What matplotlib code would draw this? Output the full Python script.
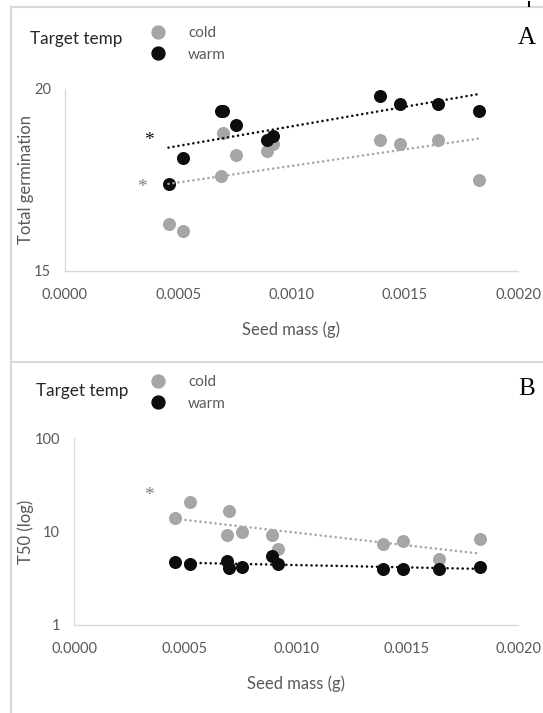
import numpy as np
import matplotlib
matplotlib.use("Agg")
import matplotlib.pyplot as plt
from matplotlib.lines import Line2D
from matplotlib.ticker import FormatStrFormatter, NullLocator

# seed mass of each species (g)
seed_mass = [0.000457, 0.000521, 0.000689, 0.000697, 0.000755, 0.00089,
             0.00092, 0.00139, 0.00148, 0.001645, 0.00183]

# A: total germination
germ_cold = [16.3, 16.1, 17.6, 18.8, 18.2, 18.3, 18.5, 18.6, 18.5, 18.6, 17.5]
germ_warm = [17.4, 18.1, 19.4, 19.4, 19.0, 18.6, 18.7, 19.8, 19.6, 19.6, 19.4]

# B: T50
t50_cold = [13.9, 20.9, 9.1, 16.6, 9.8, 9.1, 6.5, 7.3, 7.9, 5.1, 8.3]
t50_warm = [4.7, 4.5, 4.8, 4.05, 4.15, 5.5, 4.5, 3.95, 3.95, 3.95, 4.2]

# significance stars (x, y)
star_a_warm = (0.000372, 18.58)
star_a_cold = (0.000338, 17.3)
star_b_cold = (0.000338, 24.1)

GREY = "#A6A6A6"
BLACK = "#0D0D0D"
TXT = "#595959"
FRAME = "#D9D9D9"

plt.rcParams["font.family"] = ["Lato", "DejaVu Sans"]

W, H = 543, 713
fig = plt.figure(figsize=(W / 100, H / 100), dpi=100)


def px_axes(left, top, right, bottom):
    return fig.add_axes([left / W, 1 - bottom / H, (right - left) / W, (bottom - top) / H])


def style(ax):
    for s in ["top", "right"]:
        ax.spines[s].set_visible(False)
    for s in ["left", "bottom"]:
        ax.spines[s].set_color(FRAME)
        ax.spines[s].set_linewidth(1.0)
    ax.tick_params(length=0, labelsize=10.5, labelcolor=TXT)
    ax.tick_params(axis="x", pad=12)
    ax.tick_params(axis="y", pad=10)
    ax.set_xlim(0, 0.002)
    ax.set_xticks(np.arange(0, 0.00201, 0.0005))
    ax.xaxis.set_major_formatter(FormatStrFormatter("%.4f"))
    ax.set_xlabel("Seed mass (g)", fontsize=12, color=TXT, labelpad=14)


def trend(ax, x, y, color, log=False):
    x = np.asarray(x)
    y = np.asarray(y)
    xs = np.array([x.min(), x.max()])
    if log:
        b = np.polyfit(x, np.log(y), 1)
        ys = np.exp(np.polyval(b, xs))
    else:
        b = np.polyfit(x, y, 1)
        ys = np.polyval(b, xs)
    ax.plot(xs, ys, color=color, lw=1.9, linestyle=(0, (0.01, 1.9)),
            dash_capstyle="round", zorder=5)


def legend(top_y):
    handles = [Line2D([], [], marker="o", ls="", ms=9.3, color=GREY, mec=GREY),
               Line2D([], [], marker="o", ls="", ms=9.3, color=BLACK, mec=BLACK)]
    fig.legend(handles, ["cold", "warm"], loc="upper left",
               bbox_to_anchor=(150 / W, 1 - top_y / H), frameon=False,
               borderpad=0, borderaxespad=0, handlelength=1.0,
               handletextpad=1.5, labelspacing=0.5, fontsize=11,
               labelcolor=TXT)


# ---------- Panel A ----------
axA = px_axes(65, 89, 518, 271)
style(axA)
axA.scatter(seed_mass, germ_cold, s=88, color=GREY, zorder=3, linewidths=0)
axA.scatter(seed_mass, germ_warm, s=88, color=BLACK, zorder=4, linewidths=0)
trend(axA, seed_mass, germ_cold, GREY)
trend(axA, seed_mass, germ_warm, BLACK)
axA.set_ylim(15, 20)
axA.set_yticks([15, 20])
axA.set_ylabel("Total germination", fontsize=12, color=TXT)
axA.yaxis.set_label_coords((34 - 65) / 453, 0.5)
axA.text(*star_a_warm, "*", color=BLACK, fontsize=14, ha="center", va="center",
         family="Liberation Serif")
axA.text(*star_a_cold, "*", color="#808080", fontsize=14, ha="center", va="center",
         family="Liberation Serif")

fig.text(30 / W, 1 - 39 / H, "Target temp", fontsize=12.3, color="#262626", va="center")
legend(26)
fig.text(527 / W, 1 - 38 / H, "A", fontsize=18, family="Liberation Serif",
         ha="center", va="center", color="black")

# ---------- Panel B ----------
axB = px_axes(74, 438, 518, 625)
style(axB)
axB.set_yscale("log")
axB.scatter(seed_mass, t50_cold, s=88, color=GREY, zorder=3, linewidths=0)
axB.scatter(seed_mass, t50_warm, s=88, color=BLACK, zorder=4, linewidths=0)
trend(axB, seed_mass, t50_cold, GREY, log=True)
trend(axB, seed_mass, t50_warm, BLACK, log=True)
axB.set_ylim(1, 100)
axB.set_yticks([1, 10, 100])
axB.set_yticklabels(["1", "10", "100"])
axB.yaxis.set_minor_locator(NullLocator())
axB.set_ylabel("T50 (log)", fontsize=12, color=TXT)
axB.yaxis.set_label_coords((34 - 74) / 444, 0.5)
axB.text(*star_b_cold, "*", color="#808080", fontsize=14, ha="center", va="center",
         family="Liberation Serif")

fig.text(36 / W, 1 - 391 / H, "Target temp", fontsize=12.3, color="#262626", va="center")
legend(375)
fig.text(527 / W, 1 - 389 / H, "B", fontsize=18, family="Liberation Serif",
         ha="center", va="center", color="black")

# panel frames
fig.add_artist(Line2D([10.5 / W, 1], [1 - 6.5 / H, 1 - 6.5 / H], color=FRAME, lw=1.5))
fig.add_artist(Line2D([10.5 / W, 1], [1 - 362 / H, 1 - 362 / H], color=FRAME, lw=1.5))
fig.add_artist(Line2D([10.5 / W, 10.5 / W], [1 - 6.5 / H, 0], color=FRAME, lw=1.5))
fig.add_artist(Line2D([529 / W, 529 / W], [1 - 2 / H, 1 - 6 / H], color="black", lw=1.5))

fig.savefig("out.png", dpi=100)
